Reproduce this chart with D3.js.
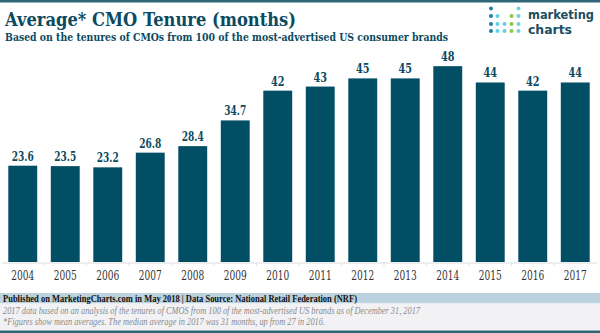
<!DOCTYPE html>
<html>
<head>
<meta charset="utf-8">
<script src="https://cdn.jsdelivr.net/npm/d3@7"></script>
<style>
  html, body { margin: 0; padding: 0; background: #fff; }
  svg { display: block; }
</style>
</head>
<body>
<svg id="chart" width="600" height="333"></svg>
<script>
// CMO tenure in months, by year
const years = ["2004","2005","2006","2007","2008","2009","2010","2011","2012","2013","2014","2015","2016","2017"];
const tenure = [23.6, 23.5, 23.2, 26.8, 28.4, 34.7, 42, 43, 45, 45, 48, 44, 42, 44];
const valueLabels = ["23.6","23.5","23.2","26.8","28.4","34.7","42","43","45","45","48","44","42","44"];

const titleText = "Average* CMO Tenure (months)";
const subtitleText = "Based on the tenures of CMOs from 100 of the most-advertised US consumer brands";
const footerLines = [
  "Published on MarketingCharts.com in May 2018 | Data Source: National Retail Federation (NRF)",
  "2017 data based on an analysis of the tenures of CMOS from 100 of the most-advertised US brands as of December 31, 2017",
  "*Figures show mean averages. The median average in 2017 was 31 months, up from 27 in 2016."
];

const W = 600, H = 333;
const dark = "#0c4a5f";
const barColor = "#024e65";
const slab = "'DejaVu Serif', serif";
const book = "'Liberation Serif', serif";

const svg = d3.select("#chart");

// frame line on top
svg.append("rect").attr("x", 0).attr("y", 0).attr("width", W).attr("height", 2.5).attr("fill", "#2f6677");

// title block
svg.append("text").attr("x", 5).attr("y", 25.5)
  .attr("font-family", slab).attr("font-weight", "bold").attr("font-size", 19)
  .attr("fill", dark).attr("textLength", 291).attr("lengthAdjust", "spacingAndGlyphs")
  .text(titleText);
svg.append("text").attr("x", 5).attr("y", 40.5)
  .attr("font-family", slab).attr("font-weight", "bold").attr("font-size", 11.5)
  .attr("fill", dark).attr("textLength", 443).attr("lengthAdjust", "spacingAndGlyphs")
  .text(subtitleText);

// logo: dot grid + wordmark
const dotCols = [491, 497.5, 504.5, 511.5, 518.5];
const dotRows = [8.5, 16, 24, 31];
const dotColor = ["#1f7ea5", "#63d0e0", "#63d0e0", "#8cc63e", "#6dd4da"];
const dotPattern = [
  [1,0,0,0,1],
  [1,1,0,1,1],
  [1,1,1,1,1],
  [1,1,1,1,1]
];
const logo = svg.append("g");
dotPattern.forEach((row, ri) => row.forEach((on, ci) => {
  if (on) logo.append("circle").attr("cx", dotCols[ci]).attr("cy", dotRows[ri]).attr("r", 2).attr("fill", dotColor[ci]);
}));
logo.append("text").attr("x", 528).attr("y", 18.5)
  .attr("font-family", "'DejaVu Sans', sans-serif").attr("font-weight", "bold").attr("font-size", 12)
  .attr("fill", "#1d4d60").attr("textLength", 66).attr("lengthAdjust", "spacingAndGlyphs").text("marketing");
logo.append("text").attr("x", 528).attr("y", 34)
  .attr("font-family", "'DejaVu Sans', sans-serif").attr("font-weight", "bold").attr("font-size", 12)
  .attr("fill", "#1d4d60").attr("textLength", 44).attr("lengthAdjust", "spacingAndGlyphs").text("charts");

// scales
const x = d3.scaleBand().domain(years).range([1.5, 596.5]).paddingInner(0.32).paddingOuter(0.16);
const y = d3.scaleLinear().domain([0, 50]).range([262, 58]);

// axis
const axis = svg.append("g").attr("transform", "translate(0,262.5)")
  .call(d3.axisBottom(x).tickSize(0).tickPadding(9));
axis.select(".domain").attr("stroke", "#dcdcdc");
axis.selectAll("text")
  .attr("font-family", slab).attr("font-size", 12).attr("fill", "#333")
  .attr("textLength", 23).attr("lengthAdjust", "spacingAndGlyphs");

// small separators between bands
svg.append("g").selectAll("line").data(years.slice(1)).join("line")
  .attr("x1", d => x(d) - x.step() * x.paddingInner() / 2)
  .attr("x2", d => x(d) - x.step() * x.paddingInner() / 2)
  .attr("y1", 262.5).attr("y2", 266).attr("stroke", "#e2e2e2");

// bars
svg.append("g").selectAll("rect").data(years).join("rect")
  .attr("x", d => x(d)).attr("width", x.bandwidth())
  .attr("y", (d, i) => y(tenure[i])).attr("height", (d, i) => y(0) - y(tenure[i]))
  .attr("fill", barColor);

// value labels (narrow slab digits)
svg.append("g").selectAll("text").data(years).join("text")
  .attr("x", d => x(d) + x.bandwidth() / 2)
  .attr("y", (d, i) => y(tenure[i]) - 5)
  .attr("text-anchor", "middle")
  .attr("font-family", slab).attr("font-weight", "bold").attr("font-size", 12.5)
  .attr("fill", dark)
  .attr("textLength", (d, i) => valueLabels[i].length > 2 ? 22 : 13.5)
  .attr("lengthAdjust", "spacingAndGlyphs")
  .text((d, i) => valueLabels[i]);

// footer
svg.append("rect").attr("x", 0).attr("y", 293).attr("width", W).attr("height", 10.5).attr("fill", "#bcd2de");
svg.append("rect").attr("x", 0).attr("y", 303.5).attr("width", W).attr("height", 27).attr("fill", "#f2f2f4");
svg.append("rect").attr("x", 0).attr("y", 330.5).attr("width", W).attr("height", 2.5).attr("fill", "#2f6677");

svg.append("text").attr("x", 3).attr("y", 301.8)
  .attr("font-family", book).attr("font-weight", "bold").attr("font-size", 10.5)
  .attr("fill", "#111").attr("textLength", 354).attr("lengthAdjust", "spacingAndGlyphs")
  .text(footerLines[0]);
svg.append("text").attr("x", 3).attr("y", 313.5)
  .attr("font-family", book).attr("font-style", "italic").attr("font-size", 10)
  .attr("fill", "#8a8a8a").attr("textLength", 417).attr("lengthAdjust", "spacingAndGlyphs")
  .text(footerLines[1]);
svg.append("text").attr("x", 3).attr("y", 325)
  .attr("font-family", book).attr("font-style", "italic").attr("font-size", 10)
  .attr("fill", "#8a8a8a").attr("textLength", 322).attr("lengthAdjust", "spacingAndGlyphs")
  .text(footerLines[2]);
</script>
</body>
</html>
